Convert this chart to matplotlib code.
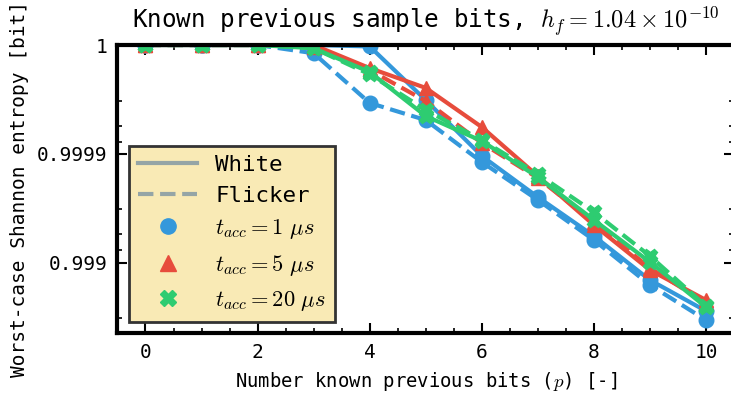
import matplotlib
matplotlib.use("Agg")
import matplotlib.pyplot as plt
import numpy as np
from matplotlib.lines import Line2D
from matplotlib.ticker import FixedLocator, FixedFormatter, MultipleLocator

plt.rcParams["font.family"] = "monospace"
plt.rcParams["font.monospace"] = ["DejaVu Sans Mono"]
plt.rcParams["mathtext.fontset"] = "cm"

bits = np.arange(11)

# worst-case Shannon entropy [bit] vs. number of known previous bits
white_1us = [0.99999, 0.99999, 0.99999, 0.99999, 0.9999897, 0.9999679,
             0.9998953, 0.9997500, 0.9994300, 0.9985510, 0.9972100]
flicker_1us = [0.99999, 0.99999, 0.99999, 0.9999881, 0.9999659, 0.9999510,
               0.9998809, 0.9997340, 0.9993790, 0.9983900, 0.9966200]
white_5us = [0.99999, 0.99999, 0.99999, 0.99999, 0.9999837, 0.9999752,
             0.9999432, 0.9998397, 0.9995480, 0.9988280, 0.9977870]
flicker_5us = [0.99999, 0.99999, 0.99999, 0.9999896, 0.9999830, 0.9999673,
               0.9999204, 0.9998329, 0.9995750, 0.9988750, 0.9976450]
white_20us = [0.99999, 0.99999, 0.99999, 0.9999893, 0.9999823, 0.9999550,
              0.9999236, 0.9998363, 0.9995940, 0.9990110, 0.9974360]
flicker_20us = [0.99999, 0.99999, 0.99999, 0.9999893, 0.9999814, 0.9999604,
                0.9999252, 0.9998465, 0.9996564, 0.9991290, 0.9974900]

tacc_labels = [r"$t_{acc} = 1\ \mu s$", r"$t_{acc} = 5\ \mu s$", r"$t_{acc} = 20\ \mu s$"]
colors = ["#3498db", "#e74c3c", "#2ecc71"]
markers = ["o", "^", "X"]

ytick_vals = [0.999, 0.9999, 0.99999]
ytick_labels = ["0.999", "0.9999", "1"]


def fwd(h):
    return -np.log10(np.clip(1.0 - np.asarray(h, dtype=float), 1e-12, None))


def inv(y):
    return 1.0 - 10.0 ** (-np.asarray(y, dtype=float))


fig = plt.figure(figsize=(7.31, 3.97), dpi=100)
ax = fig.add_axes([0.1607, 0.1612, 0.8433, 0.7254])
ax.set_yscale("function", functions=(fwd, inv))

series = [(white_1us, flicker_1us), (white_5us, flicker_5us), (white_20us, flicker_20us)]
for (white, flicker), c, m in zip(series, colors, markers):
    ax.plot(bits, white, color=c, ls="-", lw=3, marker=m, ms=10.5, mec=c)
    ax.plot(bits, flicker, color=c, ls="--", lw=3, marker=m, ms=10.5, mec=c)

ax.set_xlim(-0.5, 10.5)
ax.set_ylim(0.99555, 0.99999)

ax.xaxis.set_major_locator(MultipleLocator(2))
ax.xaxis.set_minor_locator(MultipleLocator(0.5))
ax.yaxis.set_major_locator(FixedLocator(ytick_vals))
ax.yaxis.set_major_formatter(FixedFormatter(ytick_labels))
minor = [1 - k * 10.0 ** -n for n in (3, 4, 5) for k in (3.25, 5.5, 7.75)]
ax.yaxis.set_minor_locator(FixedLocator(minor))
ax.yaxis.set_minor_formatter(FixedFormatter([""] * len(minor)))

ax.tick_params(which="both", direction="in", top=True, right=True, labelsize=14, pad=7)
ax.tick_params(which="major", length=7, width=1.5)
ax.tick_params(which="minor", length=3.5, width=1.2)
for sp in ax.spines.values():
    sp.set_linewidth(3)

ax.set_title(r"Known previous sample bits, $h_f = 1.04 \times 10^{-10}$", fontsize=17.5, pad=12)
ax.set_xlabel(r"Number known previous bits ($p$) [-]", fontsize=13.6, labelpad=6)
ax.set_ylabel("Worst-case Shannon entropy [bit]", fontsize=14, labelpad=6)

handles = [
    Line2D([], [], color="#95a5a6", lw=3, ls="-", label="White"),
    Line2D([], [], color="#95a5a6", lw=3, ls="--", label="Flicker"),
]
for c, m, lab in zip(colors, markers, tacc_labels):
    handles.append(Line2D([], [], color=c, ls="none", marker=m, ms=11, label=lab))
leg = ax.legend(handles=handles, loc="lower left", fontsize=16.2, fancybox=False,
                facecolor="#f9eab5", edgecolor="#333333", framealpha=1,
                handlelength=2.65, labelspacing=0.5)
leg.get_frame().set_linewidth(2)

fig.savefig("out.png", dpi=100)
